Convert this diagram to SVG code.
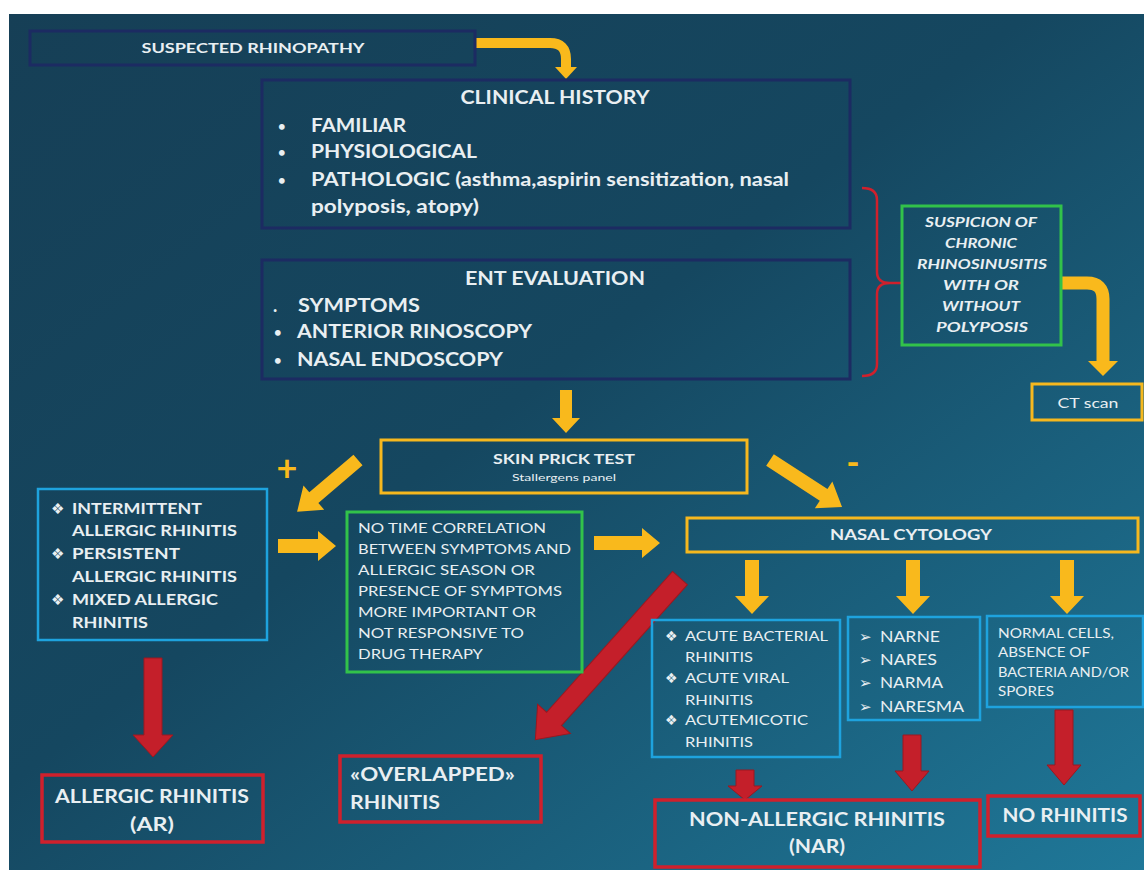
<svg xmlns="http://www.w3.org/2000/svg" width="1144" height="870" viewBox="0 0 1144 870">
<defs>
<linearGradient id="bg" x1="0" y1="0" x2="1" y2="1">
<stop offset="0" stop-color="#163f56"/>
<stop offset="0.45" stop-color="#154760"/>
<stop offset="1" stop-color="#1f7899"/>
</linearGradient>
<style>
text{font-family:Lato,"Open Sans","Liberation Sans",sans-serif;fill:#e9eff2}
.b{font-weight:bold}
.i{font-style:italic;font-weight:bold}
.c{text-anchor:middle}
.navy{fill:none;stroke:#1c2b62;stroke-width:3}
.yb{fill:none;stroke:#f6b81e;stroke-width:3}
.gb{fill:none;stroke:#32c24a;stroke-width:3}
.bb{fill:none;stroke:#1ea3de;stroke-width:2.5}
.rb{fill:none;stroke:#d0202c;stroke-width:3.5}
.ya{fill:#f9b91c}
.ra{fill:#c41f2a;stroke:#9a1820;stroke-width:1}
.ys{fill:none;stroke:#f9b91c}
.sym{font-family:"DejaVu Sans",sans-serif}
</style>
</defs>
<rect x="0" y="0" width="1144" height="870" fill="#ffffff"/>
<rect x="9" y="14" width="1135" height="856" fill="url(#bg)"/>

<g id="connectors">
<path class="ys" d="M475,43 H550 Q566,43 566,59 V67" stroke-width="10"/>
<polygon class="ya" points="555,67 577,67 566,79"/>
<path class="ys" d="M1061,283 H1087 Q1103,283 1103,299 V362" stroke-width="13"/>
<polygon class="ya" points="1088,361 1118,361 1103,376"/>
<polygon class="ya" points="560,390 572,390 572,418 580,418 566,433 552,418 560,418"/>
<polygon class="ya" transform="translate(358,460) rotate(139.6)" points="0,-7 58,-7 58,-16 80,0 58,16 58,7 0,7"/>
<polygon class="ya" transform="translate(770,460) rotate(33.1)" points="0,-7 64,-7 64,-16 86,0 64,16 64,7 0,7"/>
<polygon class="ya" points="278,539 318,539 318,531 336,546 318,561 318,553 278,553"/>
<polygon class="ya" points="594,536 642,536 642,528 660,543 642,558 642,550 594,550"/>
<polygon class="ya" points="745,560 759,560 759,596 769,596 752,614 735,596 745,596"/>
<polygon class="ya" points="906,560 920,560 920,596 930,596 913,614 896,596 906,596"/>
<polygon class="ya" points="1060,560 1074,560 1074,596 1084,596 1067,614 1050,596 1060,596"/>
<polygon class="ra" points="144,658 162,658 162,735 173,735 153,757 133,735 144,735"/>
<polygon class="ra" transform="translate(680,578) rotate(131.8)" points="0,-10 189,-10 189,-22 217,0 189,22 189,10 0,10"/>
<polygon class="ra" points="736,770 754,770 754,786 762,786 745,800 728,786 736,786"/>
<polygon class="ra" points="903,735 921,735 921,771 929,771 912,791 895,771 903,771"/>
<polygon class="ra" points="1055,710 1073,710 1073,765 1081,765 1064,785 1047,765 1055,765"/>
<path d="M862,188 Q877,188 877,200 V272 Q877,283 890,283 H902 M890,283 Q877,283 877,294 V364 Q877,376 862,376" fill="none" stroke="#d0202c" stroke-width="2.5"/>
</g>

<g id="n-suspected">
<rect class="navy" x="30" y="31" width="445" height="34"/>
<text class="b c" x="253" y="53" font-size="13.5" textLength="223" lengthAdjust="spacingAndGlyphs">SUSPECTED RHINOPATHY</text>
</g>

<g id="n-clinical">
<rect class="navy" x="262" y="80" width="588" height="148"/>
<text class="b c" x="555" y="104" font-size="18" textLength="189" lengthAdjust="spacingAndGlyphs">CLINICAL HISTORY</text>
<text class="b" x="278" y="131" font-size="13">•</text>
<text class="b" x="311" y="132" font-size="18" textLength="95" lengthAdjust="spacingAndGlyphs">FAMILIAR</text>
<text class="b" x="278" y="157" font-size="13">•</text>
<text class="b" x="311" y="158" font-size="18" textLength="166" lengthAdjust="spacingAndGlyphs">PHYSIOLOGICAL</text>
<text class="b" x="278" y="185" font-size="13">•</text>
<text class="b" x="311" y="186" font-size="18" textLength="478" lengthAdjust="spacingAndGlyphs">PATHOLOGIC (asthma,aspirin sensitization, nasal</text>
<text class="b" x="311" y="213" font-size="18" textLength="168" lengthAdjust="spacingAndGlyphs">polyposis, atopy)</text>
</g>

<g id="n-ent">
<rect class="navy" x="262" y="260" width="588" height="119"/>
<text class="b c" x="555" y="285" font-size="18" textLength="180" lengthAdjust="spacingAndGlyphs">ENT EVALUATION</text>
<text class="b" x="273" y="312" font-size="18">.</text>
<text class="b" x="298" y="312" font-size="18" textLength="122" lengthAdjust="spacingAndGlyphs">SYMPTOMS</text>
<text class="b" x="274" y="337" font-size="13">•</text>
<text class="b" x="297" y="338" font-size="18" textLength="235" lengthAdjust="spacingAndGlyphs">ANTERIOR RINOSCOPY</text>
<text class="b" x="274" y="365" font-size="13">•</text>
<text class="b" x="297" y="366" font-size="18" textLength="206" lengthAdjust="spacingAndGlyphs">NASAL ENDOSCOPY</text>
</g>

<g id="n-suspicion">
<rect class="gb" x="902" y="206" width="159" height="139"/>
<text class="i c" x="981" y="227" font-size="14" textLength="112" lengthAdjust="spacingAndGlyphs">SUSPICION OF</text>
<text class="i c" x="981" y="248" font-size="14" textLength="72" lengthAdjust="spacingAndGlyphs">CHRONIC</text>
<text class="i c" x="982" y="269" font-size="14" textLength="130" lengthAdjust="spacingAndGlyphs">RHINOSINUSITIS</text>
<text class="i c" x="981" y="290" font-size="14" textLength="76" lengthAdjust="spacingAndGlyphs">WITH OR</text>
<text class="i c" x="981" y="311" font-size="14" textLength="78" lengthAdjust="spacingAndGlyphs">WITHOUT</text>
<text class="i c" x="982" y="332" font-size="14" textLength="92" lengthAdjust="spacingAndGlyphs">POLYPOSIS</text>
</g>

<g id="n-ct">
<rect class="yb" x="1032" y="384" width="110" height="36"/>
<text class="c" x="1088" y="408" font-size="14" textLength="61" lengthAdjust="spacingAndGlyphs">CT scan</text>
</g>

<g id="n-spt">
<rect class="yb" x="381" y="440" width="366" height="53"/>
<text class="b c" x="564" y="464" font-size="14" textLength="142" lengthAdjust="spacingAndGlyphs">SKIN PRICK TEST</text>
<text class="c" x="564" y="481" font-size="10" textLength="104" lengthAdjust="spacingAndGlyphs">Stallergens panel</text>
</g>

<g id="l-plus"><text class="b c" x="287" y="481" font-size="36" style="fill:#f9b91c">+</text></g>
<g id="l-minus"><text class="b c" x="853" y="475" font-size="36" style="fill:#f9b91c">-</text></g>

<g id="n-allergic-types">
<rect class="bb" x="38" y="489" width="229" height="151"/>
<text class="sym" x="51" y="514" font-size="15">❖</text>
<text class="b" x="72" y="514" font-size="15" textLength="130" lengthAdjust="spacingAndGlyphs">INTERMITTENT</text>
<text class="b" x="72" y="536" font-size="15" textLength="165" lengthAdjust="spacingAndGlyphs">ALLERGIC RHINITIS</text>
<text class="sym" x="51" y="559" font-size="15">❖</text>
<text class="b" x="72" y="559" font-size="15" textLength="108" lengthAdjust="spacingAndGlyphs">PERSISTENT</text>
<text class="b" x="72" y="582" font-size="15" textLength="165" lengthAdjust="spacingAndGlyphs">ALLERGIC RHINITIS</text>
<text class="sym" x="51" y="605" font-size="15">❖</text>
<text class="b" x="72" y="605" font-size="15" textLength="146" lengthAdjust="spacingAndGlyphs">MIXED ALLERGIC</text>
<text class="b" x="72" y="628" font-size="15" textLength="76" lengthAdjust="spacingAndGlyphs">RHINITIS</text>
</g>

<g id="n-notime">
<rect class="gb" x="347" y="512" width="235" height="160"/>
<text x="358" y="533" font-size="14" textLength="188" lengthAdjust="spacingAndGlyphs">NO TIME CORRELATION</text>
<text x="358" y="554" font-size="14" textLength="213" lengthAdjust="spacingAndGlyphs">BETWEEN SYMPTOMS AND</text>
<text x="358" y="575" font-size="14" textLength="177" lengthAdjust="spacingAndGlyphs">ALLERGIC SEASON OR</text>
<text x="358" y="596" font-size="14" textLength="204" lengthAdjust="spacingAndGlyphs">PRESENCE OF SYMPTOMS</text>
<text x="358" y="617" font-size="14" textLength="178" lengthAdjust="spacingAndGlyphs">MORE IMPORTANT  OR</text>
<text x="358" y="638" font-size="14" textLength="166" lengthAdjust="spacingAndGlyphs">NOT RESPONSIVE TO</text>
<text x="358" y="659" font-size="14" textLength="125" lengthAdjust="spacingAndGlyphs">DRUG THERAPY</text>
</g>

<g id="n-cytology">
<rect class="yb" x="687" y="518" width="451" height="34"/>
<text class="b c" x="911" y="540" font-size="15" textLength="162" lengthAdjust="spacingAndGlyphs">NASAL CYTOLOGY</text>
</g>

<g id="n-acute">
<rect class="bb" x="652" y="620" width="188" height="137"/>
<text class="sym" x="665" y="641" font-size="14">❖</text>
<text x="685" y="641" font-size="14" textLength="143" lengthAdjust="spacingAndGlyphs">ACUTE BACTERIAL</text>
<text x="685" y="662" font-size="14" textLength="68" lengthAdjust="spacingAndGlyphs">RHINITIS</text>
<text class="sym" x="665" y="683" font-size="14">❖</text>
<text x="685" y="683" font-size="14" textLength="104" lengthAdjust="spacingAndGlyphs">ACUTE VIRAL</text>
<text x="685" y="705" font-size="14" textLength="68" lengthAdjust="spacingAndGlyphs">RHINITIS</text>
<text class="sym" x="665" y="725" font-size="14">❖</text>
<text x="685" y="725" font-size="14" textLength="123" lengthAdjust="spacingAndGlyphs">ACUTEMICOTIC</text>
<text x="685" y="747" font-size="14" textLength="68" lengthAdjust="spacingAndGlyphs">RHINITIS</text>
</g>

<g id="n-nar-types">
<rect class="bb" x="848" y="617" width="132" height="103"/>
<text class="sym" x="859" y="642" font-size="15">➢</text>
<text x="880" y="642" font-size="15" textLength="60" lengthAdjust="spacingAndGlyphs">NARNE</text>
<text class="sym" x="859" y="665" font-size="15">➢</text>
<text x="880" y="665" font-size="15" textLength="57" lengthAdjust="spacingAndGlyphs">NARES</text>
<text class="sym" x="859" y="688" font-size="15">➢</text>
<text x="880" y="688" font-size="15" textLength="63" lengthAdjust="spacingAndGlyphs">NARMA</text>
<text class="sym" x="859" y="712" font-size="15">➢</text>
<text x="880" y="712" font-size="15" textLength="84" lengthAdjust="spacingAndGlyphs">NARESMA</text>
</g>

<g id="n-normal">
<rect class="bb" x="987" y="616" width="156" height="91"/>
<text x="998" y="638" font-size="13" textLength="116" lengthAdjust="spacingAndGlyphs">NORMAL CELLS,</text>
<text x="998" y="657" font-size="13" textLength="92" lengthAdjust="spacingAndGlyphs">ABSENCE OF</text>
<text x="998" y="677" font-size="13" textLength="131" lengthAdjust="spacingAndGlyphs">BACTERIA AND/OR</text>
<text x="998" y="696" font-size="13" textLength="56" lengthAdjust="spacingAndGlyphs">SPORES</text>
</g>

<g id="n-ar">
<rect class="rb" x="42" y="775" width="221" height="67"/>
<text class="b c" x="152" y="803" font-size="18" textLength="194" lengthAdjust="spacingAndGlyphs">ALLERGIC RHINITIS</text>
<text class="b c" x="152" y="831" font-size="18" textLength="44" lengthAdjust="spacingAndGlyphs">(AR)</text>
</g>

<g id="n-overlapped">
<rect class="rb" x="340" y="756" width="201" height="66"/>
<text class="b" x="350" y="781" font-size="18" textLength="165" lengthAdjust="spacingAndGlyphs">«OVERLAPPED»</text>
<text class="b" x="350" y="809" font-size="18" textLength="90" lengthAdjust="spacingAndGlyphs">RHINITIS</text>
</g>

<g id="n-nar">
<rect class="rb" x="655" y="800" width="325" height="67"/>
<text class="b c" x="817" y="826" font-size="19" textLength="256" lengthAdjust="spacingAndGlyphs">NON-ALLERGIC  RHINITIS</text>
<text class="b c" x="817" y="853" font-size="19" textLength="56" lengthAdjust="spacingAndGlyphs">(NAR)</text>
</g>

<g id="n-norhinitis">
<rect class="rb" x="988" y="796" width="152" height="40"/>
<text class="b c" x="1065" y="822" font-size="18" textLength="125" lengthAdjust="spacingAndGlyphs">NO RHINITIS</text>
</g>
</svg>
